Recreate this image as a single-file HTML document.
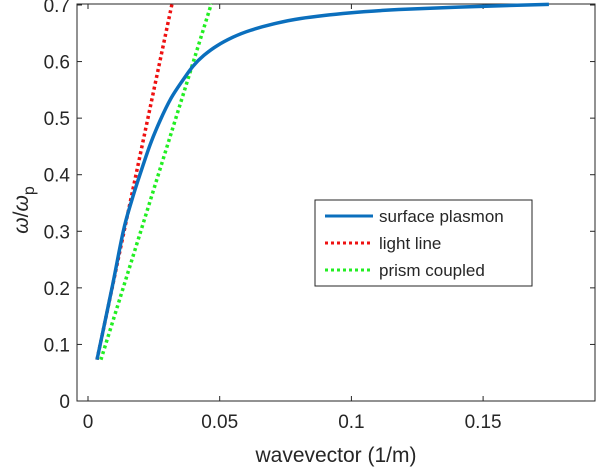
<!DOCTYPE html>
<html><head><meta charset="utf-8"><style>
body{margin:0;background:#fff;}
svg text{font-family:"Liberation Sans",Arial,sans-serif;fill:#262626;}
</style></head><body>
<svg width="600" height="470" xmlns="http://www.w3.org/2000/svg">
<g id="plot"></g>
</svg>
<script>
const xTicks=[0,0.05,0.1,0.15];
const xTickLabels=["0","0.05","0.1","0.15"];
const yTicks=[0,0.1,0.2,0.3,0.4,0.5,0.6,0.7];
const yTickLabels=["0","0.1","0.2","0.3","0.4","0.5","0.6","0.7"];
const spK=[0.0034,0.0091,0.0134,0.0165,0.0197,0.0235,0.0273,0.0315,0.036,0.0399,0.044,0.049,0.055,0.0615,0.07,0.0805,0.0995,0.118,0.145,0.175];
const spW=[0.073,0.2,0.3,0.353,0.4,0.452,0.495,0.535,0.567,0.592,0.611,0.628,0.643,0.655,0.666,0.676,0.686,0.692,0.697,0.701];
const lightK=[0.0034,0.0319];
const lightW=[0.073,0.702];
const prismK=[0.0049,0.0468];
const prismW=[0.073,0.702];
const L=77,R=595,T=4,B=401;
const X=v=>88+v/0.05*131.7;
const Y=v=>401-v/0.7*396;
const NS="http://www.w3.org/2000/svg";
const svg=document.querySelector('svg');
function mk(t,a,p){const e=document.createElementNS(NS,t);for(const k in a)e.setAttribute(k,a[k]);(p||svg).appendChild(e);return e;}
const box=mk('rect',{x:L,y:T,width:R-L,height:B-T,fill:'none',stroke:'#262626','stroke-width':1});


xTicks.forEach((v,i)=>{
 const x=X(v);
 const t1=mk('line',{x1:x,x2:x,y1:B,y2:B-5,stroke:'#262626'});
 
 
 mk('line',{x1:x,x2:x,y1:T,y2:T+5,stroke:'#262626'});
 const t=mk('text',{x:x,y:428,'text-anchor':'middle','font-size':19});
 t.textContent=xTickLabels[i];
 
 
});
yTicks.forEach((v,i)=>{
 const y=Y(v);
 const t1=mk('line',{x1:L,x2:L+5,y1:y,y2:y,stroke:'#262626'});
 
 
 mk('line',{x1:R,x2:R-5,y1:y,y2:y,stroke:'#262626'});
 const t=mk('text',{x:70,y:y+7,'text-anchor':'end','font-size':19});
 t.textContent=yTickLabels[i];
 
 
});
const xt=mk('text',{x:336,y:462,'text-anchor':'middle','font-size':21});
xt.textContent='wavevector (1/m)';


const yt=mk('text',{transform:'translate(28,210) rotate(-90)','text-anchor':'middle','font-size':21});
yt.innerHTML='<tspan font-style="italic">ω</tspan>/<tspan font-style="italic">ω</tspan><tspan dy="6" font-size="16">p</tspan>';


function smoothPath(ks,ws){
 const p=ks.map((k,i)=>[X(k),Y(ws[i])]);
 let d='M'+p[0][0].toFixed(1)+','+p[0][1].toFixed(1);
 for(let i=0;i<p.length-1;i++){
  const p0=p[Math.max(0,i-1)],p1=p[i],p2=p[i+1],p3=p[Math.min(p.length-1,i+2)];
  const c1=[p1[0]+(p2[0]-p0[0])/6,p1[1]+(p2[1]-p0[1])/6];
  const c2=[p2[0]-(p3[0]-p1[0])/6,p2[1]-(p3[1]-p1[1])/6];
  d+='C'+c1.map(v=>v.toFixed(1))+' '+c2.map(v=>v.toFixed(1))+' '+p2.map(v=>v.toFixed(1));
 }
 return d;
}
function line(ks,ws,col,dash,name){
 const p=mk('path',{d:smoothPath(ks,ws),fill:'none',stroke:col,'stroke-width':3.5,'stroke-linejoin':'round','stroke-dasharray':dash||'none'});
 
 
}
line(prismK,prismW,'#22ee22','3 3','prism-coupled-line');
line(lightK,lightW,'#ee1111','3 3','light-line');
line(spK,spW,'#0b6fbd','','surface-plasmon-line');
const lg=mk('g',{});


mk('rect',{x:315,y:200,width:217,height:86,fill:'#fff',stroke:'#262626'},lg);
const ent=[['surface plasmon','#0b6fbd',''],['light line','#ee1111','3 3'],['prism coupled','#22ee22','3 3']];
ent.forEach((e,i)=>{
 const y=216+i*27;
 const g=mk('g',{},lg);
 
 
 mk('line',{x1:325,x2:373,y1:y,y2:y,stroke:e[1],'stroke-width':3,'stroke-dasharray':e[2]||'none'},g);
 const t=mk('text',{x:379,y:y+6,'font-size':17},g);
 t.textContent=e[0];
});
</script>
</body></html>
